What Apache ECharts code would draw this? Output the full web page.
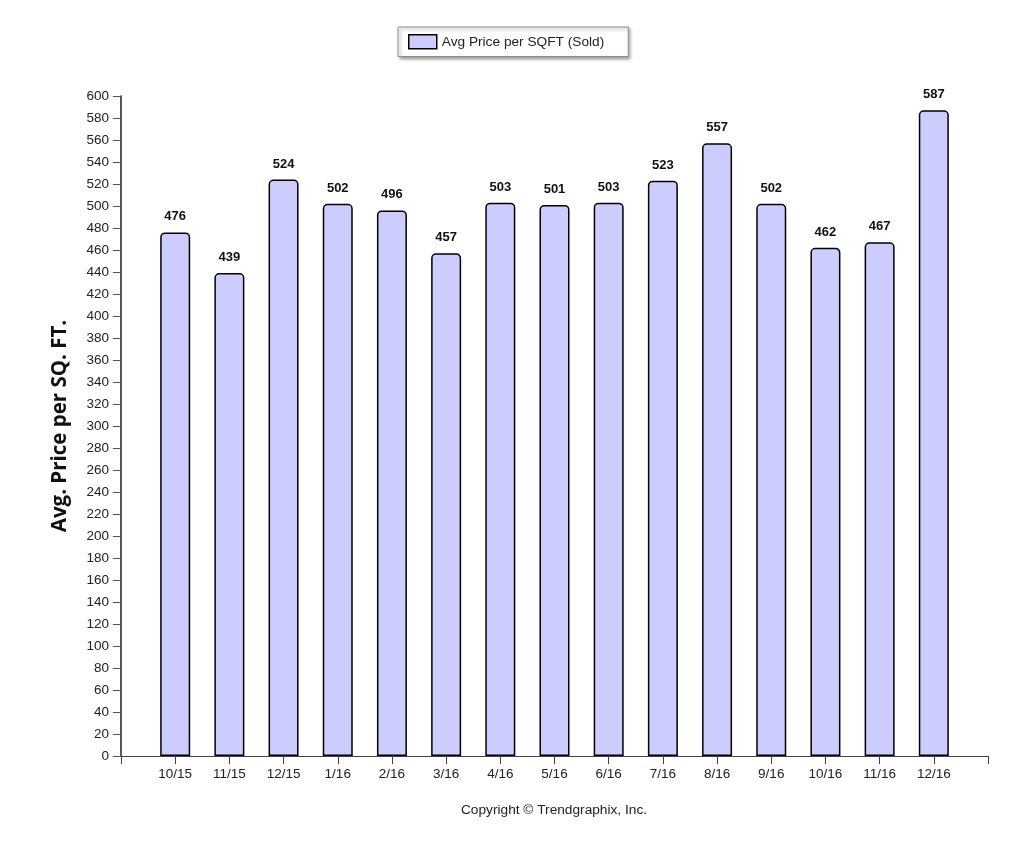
<!DOCTYPE html>
<html>
<head>
<meta charset="utf-8">
<script src="https://cdn.jsdelivr.net/npm/echarts@6/dist/echarts.min.js"></script>
<style>
html,body{margin:0;padding:0;background:#fff;}
#chart{width:1024px;height:853px;}
</style>
</head>
<body>
<div id="chart"></div>
<script>
const categories = ['10/15','11/15','12/15','1/16','2/16','3/16','4/16','5/16','6/16','7/16','8/16','9/16','10/16','11/16','12/16'];
const avgPricePerSqft = [476,439,524,502,496,457,503,501,503,523,557,502,462,467,587];
const yTicks = {min:0, max:600, interval:20};

const axisCats = [''].concat(categories).concat(['']);
const seriesData = [null].concat(avgPricePerSqft).concat([null]);

const chart = echarts.init(document.getElementById('chart'));
chart.setOption({
  animation: false,
  backgroundColor: '#fff',
  grid: {left:121, right:36, top:96, bottom:97, containLabel:false},
  legend: {
    left: 398, top: 27,
    data: ['Avg Price per SQFT (Sold)'],
    icon: 'rect',
    itemWidth: 28, itemHeight: 14, itemGap: 5,
    padding: [7, 24, 7, 10],
    borderColor: '#8a8a8a', borderWidth: 1,
    backgroundColor: '#fff',
    shadowColor: 'rgba(0,0,0,0.35)', shadowBlur: 3, shadowOffsetX: 2, shadowOffsetY: 2,
    textStyle: {fontFamily: 'Liberation Sans, Arial', fontSize: 13.7, color: '#222'},
    itemStyle: {color: '#ccccff', borderColor: '#000', borderWidth: 1.5}
  },
  xAxis: {
    type: 'category',
    data: axisCats,
    boundaryGap: false,
    axisLine: {show: true, lineStyle: {color: '#444', width: 1}},
    axisTick: {show: true, interval: 0, length: 8, lineStyle: {color: '#444'}},
    axisLabel: {interval: 0, margin: 11, fontFamily: 'Liberation Sans, Arial', fontSize: 13.5, color: '#222'},
    splitLine: {show: false}
  },
  yAxis: {
    type: 'value',
    min: yTicks.min, max: yTicks.max, interval: yTicks.interval,
    name: 'Avg. Price per SQ. FT.',
    nameLocation: 'middle',
    nameGap: 50,
    nameTextStyle: {fontFamily: 'Open Sans', fontWeight: 'bold', fontSize: 20.5, color: '#111'},
    axisLine: {show: true, lineStyle: {color: '#222', width: 1.5}},
    axisTick: {show: true, length: 8, lineStyle: {color: '#555'}},
    axisLabel: {margin: 12, fontFamily: 'Liberation Sans, Arial', fontSize: 13.5, color: '#222'},
    splitLine: {show: false}
  },
  series: [{
    name: 'Avg Price per SQFT (Sold)',
    type: 'bar',
    data: seriesData,
    barWidth: 30,
    itemStyle: {color: '#ccccff', borderColor: '#000', borderWidth: 1.5, borderRadius: [4,4,0,0]},
    label: {
      show: true, position: 'top', distance: 9,
      fontFamily: 'Liberation Sans, Arial', fontWeight: 'bold', fontSize: 13, color: '#111'
    }
  }],
  graphic: [{
    type: 'text',
    x: 554, y: 810,
    style: {text: 'Copyright © Trendgraphix, Inc.', fontFamily: 'Liberation Sans, Arial', fontSize: 13.7, fill: '#222', align: 'center', verticalAlign: 'middle'}
  }]
});
</script>
</body>
</html>
